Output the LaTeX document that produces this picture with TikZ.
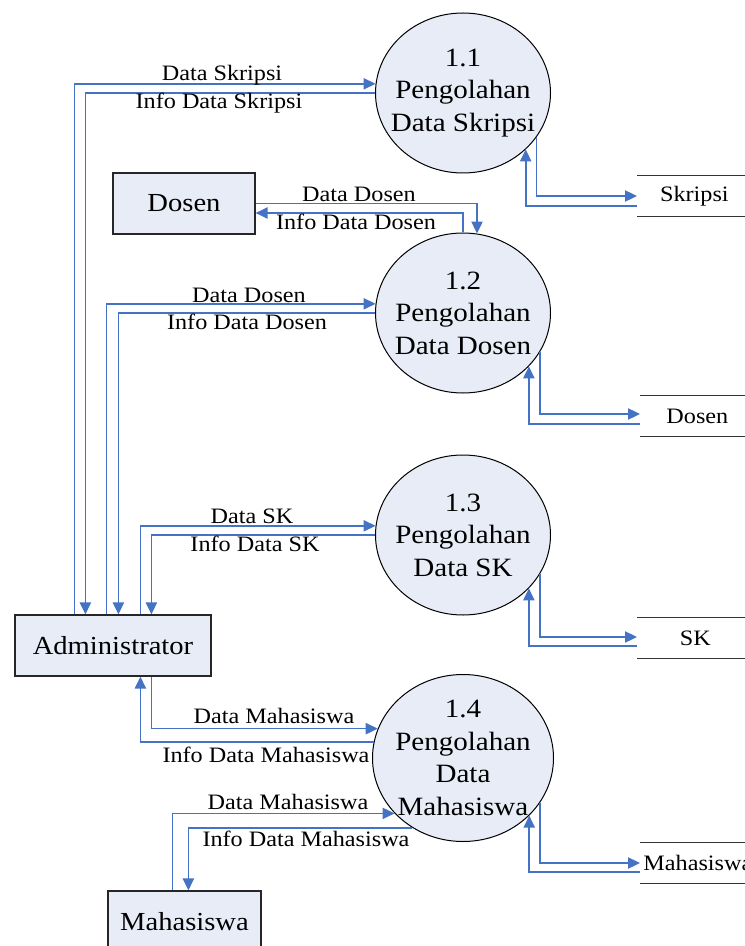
\documentclass[tikz,border=0pt]{standalone}
\usepackage{fontspec}
\setmainfont{Liberation Serif}[FakeStretch=1.1]
\usetikzlibrary{arrows.meta,shapes.geometric}
\definecolor{flowblue}{RGB}{68,114,196}
\definecolor{nodefill}{RGB}{231,236,247}
\begin{document}
\begin{tikzpicture}[x=0.5pt,y=-0.5pt,
  flow/.style={draw=flowblue, line width=0.8pt, -{Triangle[length=6pt,width=5.6pt]}},
  proc/.style={ellipse, draw=black, line width=0.5pt, fill=nodefill, inner sep=0pt, minimum width=87.5pt, minimum height=80pt},
  proctext/.style={align=center, font=\fontsize{13.2}{16.25}\selectfont, inner sep=0pt},
  ext/.style={rectangle, draw=black!85, line width=0.6pt, fill=nodefill, font=\fontsize{13}{15}\selectfont, inner sep=0pt, minimum height=30.5pt},
  store/.style={anchor=west, inner sep=0pt, minimum height=20pt, font=\fontsize{11}{13}\selectfont},
  storeline/.style={draw=black!80, line width=0.6pt},
  lbl/.style={font=\fontsize{11}{13}\selectfont, anchor=base, inner sep=0pt}]
\useasboundingbox (0,0) rectangle (744,946);

% processes
\node[proc] (p1) at (463,93) {};
\node[proctext] (t1) at (p1) {1.1\\Pengolahan\\Data Skripsi};
\node[proc] (p2) at (463,313) {};
\node[proctext] (t2) at (p2) {1.2\\Pengolahan\\Data Dosen};
\node[proc] (p3) at (463,535) {};
\node[proctext] (t3) at (p3) {1.3\\Pengolahan\\Data SK};
\node[proc, minimum width=90.5pt, minimum height=83.5pt] (p4) at (463,758) {};
\node[proctext] (t4) at (p4) {1.4\\Pengolahan\\Data\\Mahasiswa};

% external entities
\node[ext, minimum width=71pt] (dosen) at (184,203.5) {Dosen};
\node[ext, minimum width=98pt] (admin) at (113,645.5) {Administrator};
\node[ext, minimum width=76.5pt] (mhs) at (184.5,921.5) {Mahasiswa};

% data stores
\node[store, minimum width=57pt] (s1) at (637,196) {Skripsi};
\node[store, minimum width=57pt] (s2) at (640,416) {Dosen};
\node[store, minimum width=58pt] (s3) at (637,638) {SK};
\node[store, text width=70pt, inner xsep=1.5pt, align=left] (s4) at (640,863) {Mahasiswa};
\foreach \s in {s1,s2,s3,s4}{
  \draw[storeline] (\s.north west) -- (\s.north east);
  \draw[storeline] (\s.south west) -- (\s.south east);
}

% admin <-> processes
\draw[flow] ([xshift=30pt]admin.north west) |- (p1.174.1);
\draw[flow] (p1.west) -| ([xshift=35.5pt]admin.north west);
\draw[flow] ([xshift=46pt]admin.north west) |- (p2.174.1);
\draw[flow] (p2.west) -| ([xshift=52pt]admin.north west);
\draw[flow] ([xshift=63pt]admin.north west) |- (p3.174.1);
\draw[flow] (p3.west) -| ([xshift=68.5pt]admin.north west);
\draw[flow] ([xshift=68.5pt]admin.south west) |- (p4.161.1);
\draw[flow] (p4.170.4) -| ([xshift=63pt]admin.south west);

% mahasiswa <-> p4
\draw[flow] ([xshift=32.5pt]mhs.north west) |- (p4.219.8);
\draw[flow] (p4.234.8) -| ([xshift=40.5pt]mhs.north west);

% dosen <-> p2
\draw[flow] (dosen.east) -| (p2.80);
\draw[flow] (p2.north) |- ([yshift=-4.75pt]dosen.east);

% processes <-> stores
\draw[flow] (p1.-31.1) |- (s1.west);
\draw[flow] ([yshift=-5pt]s1.west) -| (p1.-42.3);
\draw[flow] (p2.-27.5) |- ([yshift=1pt]s2.west);
\draw[flow] ([yshift=-4pt]s2.west) -| (p2.-39.5);
\draw[flow] (p3.-27.5) |- ([yshift=0.5pt]s3.west);
\draw[flow] ([yshift=-4pt]s3.west) -| (p3.-39.5);
\draw[flow] (p4.-30.8) |- (s4.west);
\draw[flow] ([yshift=-4.5pt]s4.west) -| (p4.-41.8);

% labels
\node[lbl] (l1) at (222,81) {Data Skripsi};
\node[lbl] (l2) at (219,109) {Info Data Skripsi};
\node[lbl] (l3) at (359,202) {Data Dosen};
\node[lbl] (l4) at (356,230) {Info Data Dosen};
\node[lbl] (l5) at (249,302) {Data Dosen};
\node[lbl] (l6) at (247,329) {Info Data Dosen};
\node[lbl] (l7) at (252,523) {Data SK};
\node[lbl] (l8) at (255,551) {Info Data SK};
\node[lbl] (l9) at (274,723) {Data Mahasiswa};
\node[lbl] (l10) at (266,762) {Info Data Mahasiswa};
\node[lbl] (l11) at (288,809) {Data Mahasiswa};
\node[lbl] (l12) at (306,846) {Info Data Mahasiswa};
\end{tikzpicture}
\end{document}
